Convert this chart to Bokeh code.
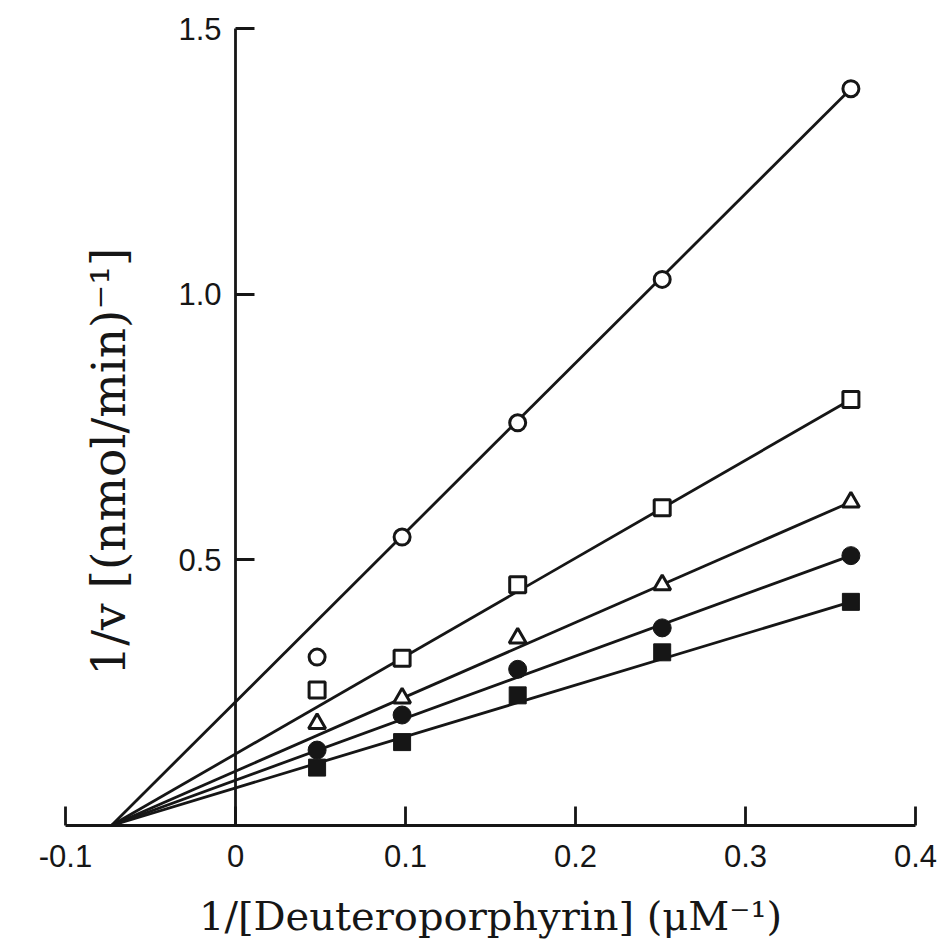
import math
from bokeh.plotting import figure
from bokeh.models import FixedTicker, NumeralTickFormatter, Label
from bokeh.embed import file_html
from bokeh.resources import INLINE

# 1/[S] values (uM^-1)
inv_s = [0.048, 0.098, 0.166, 0.251, 0.362]

# 1/v values for the five series
open_circle = [0.317, 0.543, 0.758, 1.028, 1.387]
open_square = [0.255, 0.315, 0.453, 0.598, 0.802]
open_triangle = [0.192, 0.240, 0.353, 0.453, 0.609]
filled_circle = [0.142, 0.208, 0.294, 0.372, 0.508]
filled_square = [0.109, 0.157, 0.245, 0.326, 0.421]

# fitted lines: common x-intercept to end point
line_start_x = -0.073
line_end_x = 0.362
line_end_y = [1.387, 0.802, 0.609, 0.508, 0.421]

x_ticks = [-0.1, 0, 0.1, 0.2, 0.3, 0.4]
x_tick_labels = ["-0.1", "0", "0.1", "0.2", "0.3", "0.4"]
y_ticks = [0.5, 1.0, 1.5]
y_tick_labels = ["0.5", "1.0", "1.5"]

x_title = "1/[Deuteroporphyrin] (\u03bcM\u207b\u00b9)"
y_title = "1/v [(nmol/min)\u207b\u00b9]"

INK = "#161616"

# y range extends a little above 1.5 so the fixed axis' top label is not clipped
p = figure(width=951, height=949, x_range=(-0.1, 0.4), y_range=(0, 1.553),
           output_backend="svg", toolbar_location=None,
           min_border_left=65, min_border_right=36,
           min_border_top=0, min_border_bottom=124)
p.outline_line_color = None
p.grid.visible = False
p.background_fill_color = "white"
p.border_fill_color = "white"

for ax in (p.xaxis[0], p.yaxis[0]):
    ax.axis_line_width = 2.8
    ax.axis_line_color = INK
    ax.major_tick_line_width = 2.8
    ax.major_tick_line_color = INK
    ax.major_tick_in = 19
    ax.major_tick_out = 0
    ax.minor_tick_line_color = None
    ax.major_label_text_font = "Liberation Sans"
    ax.major_label_text_font_size = "31px"
    ax.major_label_text_color = INK
    ax.axis_label_text_font = "DejaVu Serif"
    ax.axis_label_text_font_style = "normal"
    ax.axis_label_text_color = INK

p.xaxis.ticker = FixedTicker(ticks=x_ticks)
p.xaxis.formatter = NumeralTickFormatter(format="0.[0]")
p.xaxis.major_label_overrides = {t: l for t, l in zip(x_ticks, x_tick_labels)}
p.xaxis.major_label_standoff = 19
p.xaxis.axis_label = x_title
p.xaxis.axis_label_text_font_size = "40px"
p.xaxis.axis_label_standoff = 23

yax = p.yaxis[0]
yax.fixed_location = 0
yax.bounds = (0, 1.5)
yax.ticker = FixedTicker(ticks=y_ticks)
yax.formatter = NumeralTickFormatter(format="0.0")
yax.major_label_overrides = {t: l for t, l in zip(y_ticks, y_tick_labels)}
yax.major_label_standoff = 14

# y-axis title placed beside the fixed axis
p.add_layout(Label(x=-0.0745, y=0.685, text=y_title, angle=math.pi / 2,
                   text_align="center", text_baseline="middle",
                   text_font="DejaVu Serif", text_font_size="47px",
                   text_color=INK))

# lines
for ye in line_end_y:
    p.line([line_start_x, line_end_x], [0, ye], line_color=INK, line_width=2.8)

# markers
p.scatter(inv_s, open_circle, marker="circle", size=16, fill_color="white",
          line_color=INK, line_width=3)
p.scatter(inv_s, open_square, marker="square", size=16, fill_color="white",
          line_color=INK, line_width=3)
p.scatter(inv_s, open_triangle, marker="triangle", size=17, fill_color="white",
          line_color=INK, line_width=3)
p.scatter(inv_s, filled_circle, marker="circle", size=18, fill_color=INK,
          line_color=INK, line_width=1)
p.scatter(inv_s, filled_square, marker="square", size=17, fill_color=INK,
          line_color=INK, line_width=1)

open("out.html", "w").write(file_html(p, INLINE))
